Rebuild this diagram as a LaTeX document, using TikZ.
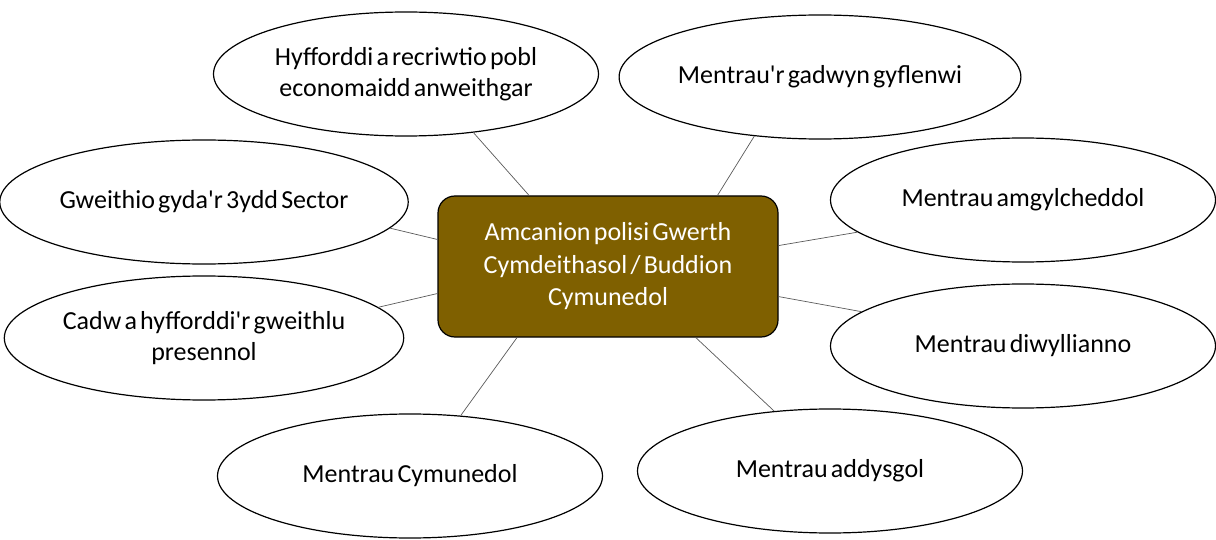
\documentclass[tikz,border=0pt]{standalone}
\usepackage{fontspec}
\setmainfont{Carlito}[Ligatures=TeXOff,WordSpace=0.55]
\usetikzlibrary{shapes.geometric}

\definecolor{polbrown}{HTML}{7F6000}

\begin{document}
\begin{tikzpicture}[x=1pt,y=-1pt,
    aim/.style={draw,ellipse,line width=1.2pt,minimum width=385pt,minimum height=124pt,
      inner sep=0pt,align=center,font=\fontsize{26}{31}\selectfont},
    link/.style={draw=black!65,line width=0.7pt}]
    \useasboundingbox (0,0) rectangle (1216,540);

    % Central policy box
    \node[draw,line width=1.2pt,fill=polbrown,text=white,rounded corners=17pt,
      minimum width=340pt,minimum height=141pt,align=center,
      font=\fontsize{26}{32.5}\selectfont] (policy) at (608,266.5)
      {Amcanion polisi Gwerth\\Cymdeithasol / Buddion\\Cymunedol};

    % Objectives
    \node[aim] (recruit) at (406,74) {Hyfforddi a recriwtio pobl\\economaidd anweithgar};
    \node[aim] (supply) at (820,77) {Mentrau'r gadwyn gyflenwi};
    \node[aim] (third) at (204,202) {Gweithio gyda'r 3ydd Sector};
    \node[aim] (enviro) at (1023,200) {Mentrau amgylcheddol};
    \node[aim] (retain) at (204,338) {Cadw a hyfforddi'r gweithlu\\presennol};
    \node[aim] (culture) at (1023,346) {Mentrau diwyllianno};
    \node[aim] (community) at (410,476) {Mentrau Cymunedol};
    \node[aim] (educ) at (830,471) {Mentrau addysgol};

    % Links
    \draw[link] (policy.138.6) -- (recruit.-41.8);
    \draw[link] (policy.33.9) -- (supply.-138.2);
    \draw[link] (policy.171.8) -- (third.-8.5);
    \draw[link] (policy.7.9) -- (enviro.-169.8);
    \draw[link] (policy.-171.5) -- (retain.10.7);
    \draw[link] (policy.-10.5) -- (culture.168.6);
    \draw[link] (policy.-142.5) -- (community.50.9);
    \draw[link] (policy.-39.3) -- (educ.133.5);
\end{tikzpicture}
\end{document}
